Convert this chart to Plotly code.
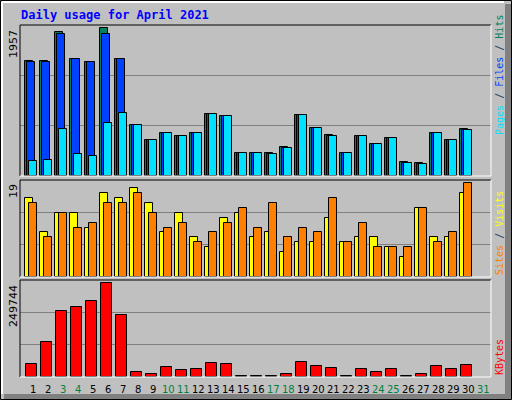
import plotly.graph_objects as go

days = list(range(1, 31))
day_labels = [str(d) for d in range(1, 32)]
weekend = [3, 4, 10, 11, 17, 18, 24, 25, 31]
hits = [1523,1523,1904,1550,1510,1957,1550,670,473,565,525,565,815,788,302,302,302,381,801,630,538,302,525,420,499,184,171,565,473,617]
files = [1510,1510,1878,1550,1510,1878,1550,670,473,565,525,565,815,788,302,302,290,370,801,630,525,302,525,420,499,175,160,565,473,605]
pages = [197,210,617,289,263,696,827,670,473,565,525,565,815,788,302,302,290,370,801,630,525,302,525,420,499,175,160,565,473,605]
sites = [16,9,13,13,10,17,16,18,15,9,13,8,6,12,13,8,9,5,7,7,12,7,8,8,6,4,14,8,8,17]
visits = [15,8,13,10,11,15,15,17,13,10,11,7,9,11,14,10,15,8,10,9,16,7,11,6,6,6,14,7,9,19]
kbytes = [33700,93900,176000,187000,203000,249744,165000,14600,9100,25500,17300,20000,36500,33700,1500,1500,1500,9000,39200,28300,22800,1500,20000,13700,20000,1500,9000,28300,20000,31000]

X0, X1 = 20, 491
def px(x): return x / 512
def py(y): return 1 - y / 400
xr = [0, (X1 - X0) / 15]
panels = [(25, 176), (180, 277), (280, 377)]

fig = go.Figure()
def bar(y, color, off, w, axis):
    fig.add_trace(go.Bar(x=days, y=y, offset=off, width=w, marker=dict(color=color, line=dict(color="black", width=1)),
                         xaxis="x" + axis, yaxis="y" + axis, showlegend=False, hoverinfo="skip"))

bar(hits, "#00805C", -0.67, 0.53, "")
bar(files, "#0040FF", -0.53, 0.53, "")
bar(pages, "#00E0FF", -0.4, 0.53, "")
bar(sites, "#FFFF00", -0.67, 0.53, "2")
bar(visits, "#FF8000", -0.4, 0.53, "2")
bar(kbytes, "#FF0000", -0.6, 0.73, "3")

maxes = [max(hits), max(visits), max(kbytes)]
lay = dict(width=512, height=400, margin=dict(l=0, r=0, t=0, b=0), paper_bgcolor="#C0C0C0",
           plot_bgcolor="#C0C0C0", barmode="overlay", bargap=0)
for i, (yt, yb) in enumerate(panels):
    s = "" if i == 0 else str(i + 1)
    m = maxes[i]
    top = m * (yb - yt) / (yb - yt - 3)
    lay["xaxis" + s] = dict(domain=[px(X0), px(X1)], range=xr, showticklabels=False, showgrid=False,
                            zeroline=False, anchor="y" + s, fixedrange=True)
    lay["yaxis" + s] = dict(domain=[py(yb), py(yt)], range=[0, top], tickvals=[top / 3, 2 * top / 3],
                            showticklabels=False, gridcolor="#808080", gridwidth=1, zeroline=False,
                            anchor="x" + s, fixedrange=True)
fig.update_layout(**lay)

shapes = []
def line(x0, y0, x1, y1, c, w=1):
    shapes.append(dict(type="line", xref="paper", yref="paper", x0=px(x0), y0=py(y0), x1=px(x1), y1=py(y1),
                       line=dict(color=c, width=w)))
line(0.5, 0.5, 511.5, 0.5, "black"); line(0.5, 0.5, 0.5, 399.5, "black")
line(511.5, 0.5, 511.5, 399.5, "black"); line(0.5, 399.5, 511.5, 399.5, "black")
line(2, 2, 504, 2, "white", 2); line(2, 2, 2, 394, "white", 2)
shapes.append(dict(type="rect", xref="paper", yref="paper", x0=px(505), x1=px(511), y0=py(399), y1=py(4),
                   fillcolor="#808080", line=dict(width=0)))
shapes.append(dict(type="rect", xref="paper", yref="paper", x0=px(4), x1=px(511), y0=py(399), y1=py(394),
                   fillcolor="#808080", line=dict(width=0)))
for yt, yb in panels:
    line(X0, yt, X1, yt, "black"); line(X0, yt, X0, yb, "black")
    line(X0, yb, X1, yb, "white"); line(X1, yt, X1, yb, "white")
fig.update_layout(shapes=shapes)

ann = []
mono = "DejaVu Sans Mono"
ann.append(dict(text="<b>Daily usage for April 2021</b>", x=px(19), y=py(15), xref="paper", yref="paper",
                xanchor="left", yanchor="middle", showarrow=False, font=dict(family=mono, size=12, color="#0000FF")))
for d in range(1, 32):
    ann.append(dict(text=day_labels[d - 1], x=d - 0.13, y=py(389), xref="x3", yref="paper", showarrow=False,
                    yanchor="middle", font=dict(family="DejaVu Sans", size=10,
                                                 color="#008040" if d in weekend else "black")))
for lbl, yt in [(str(maxes[0]), 28), (str(maxes[1]), 182), (str(maxes[2]), 283)]:
    ann.append(dict(text=lbl, x=px(13), y=py(yt), xref="paper", yref="paper", textangle=-90, showarrow=False,
                    xanchor="center", yanchor="top", font=dict(family="DejaVu Sans", size=11, color="black")))
def rl(text, ybot):
    ann.append(dict(text=text, x=px(499), y=py(ybot), xref="paper", yref="paper", textangle=-90, showarrow=False,
                    xanchor="center", yanchor="bottom", font=dict(family=mono, size=10)))
rl("<span style='color:#00E0FF'>Pages</span> / <span style='color:#0040FF'>Files</span> / <span style='color:#00805C'>Hits</span>", 137)
rl("<span style='color:#FF8000'>Sites</span> / <span style='color:#FFFF00'>Visits</span>", 277)
rl("<span style='color:#FF0000'>KBytes</span>", 377)
fig.update_layout(annotations=ann)
fig.write_html("out.html", config={"displayModeBar": False})
with open("out.html") as f:
    html = f.read()
html = html.replace("<head>", "<head><style>html,body{margin:0;padding:0;overflow:hidden}</style>", 1)
with open("out.html", "w") as f:
    f.write(html)
